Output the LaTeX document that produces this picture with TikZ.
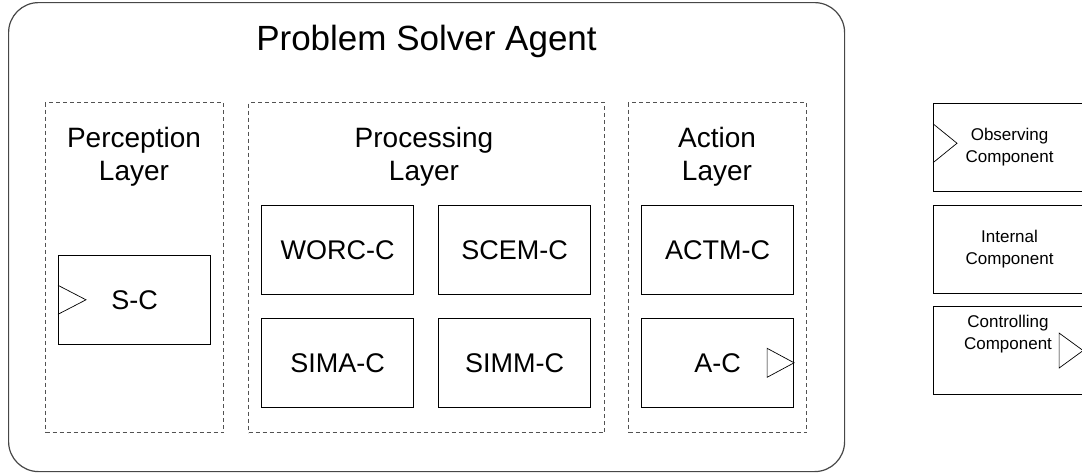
\documentclass[tikz,border=0pt]{standalone}
\usepackage{fontspec}
\setmainfont{Liberation Sans}
\begin{document}
\begin{tikzpicture}[x=1pt,y=-1pt,
  agent/.style={draw=black!72, line width=1.2pt, rounded corners=30pt, anchor=north west, inner sep=0pt},
  layer/.style={draw=black!68, line width=1pt, dash pattern=on 4pt off 3pt, anchor=north west, inner sep=0pt},
  comp/.style={draw=black, line width=1.1pt, anchor=north west, minimum width=152pt, minimum height=88.5pt, inner sep=0pt, font=\fontsize{27}{32}\selectfont},
  legendbox/.style={draw=black, line width=1.1pt, anchor=north west, minimum width=152pt, minimum height=88pt, inner sep=0pt, align=center, font=\fontsize{17}{22}\selectfont},
  legendtext/.style={inner sep=0pt, align=center, font=\fontsize{17}{22}\selectfont},
  port/.style={draw=black, line width=0.7pt, line join=miter},
  agenttitle/.style={font=\fontsize{35}{40}\selectfont, inner sep=0pt},
  layertitle/.style={font=\fontsize{28}{33}\selectfont, align=center, inner sep=0pt}]

\useasboundingbox (0,0) rectangle (1082,474);

% agent frame and its title
\node[agent, minimum width=836pt, minimum height=469pt] (agent) at (8,2) {};
\node[agenttitle, anchor=base] (title) at (426.5,50) {Problem Solver Agent};

% the three layers
\node[layer, minimum width=178pt, minimum height=330pt] (perc) at (45,102) {};
\node[layer, minimum width=356pt, minimum height=330pt] (proc) at (248,102) {};
\node[layer, minimum width=178pt, minimum height=330pt] (act) at (628,102) {};
\node[layertitle] (perctitle) at (134,157) {Perception\\Layer};
\node[layertitle] (proctitle) at (424,157) {Processing\\Layer};
\node[layertitle] (acttitle) at (717,157) {Action\\Layer};

% components
\node[comp] (sc) at (58,255) {S-C};
\node[comp] (worc) at (261,205) {WORC-C};
\node[comp] (scem) at (438,205) {SCEM-C};
\node[comp] (sima) at (261,318) {SIMA-C};
\node[comp] (simm) at (438,318) {SIMM-C};
\node[comp] (actm) at (641,205) {ACTM-C};
\node[comp] (ac) at (641,318) {A-C};

% input / output ports
\draw[port] ([yshift=14.5pt]sc.west) -- ([xshift=28pt]sc.west) -- ([yshift=-14.5pt]sc.west);
\draw[port] ([xshift=-27pt,yshift=14.5pt]ac.east) -- (ac.east) -- ([xshift=-27pt,yshift=-14.5pt]ac.east) -- cycle;

% legend
\begin{scope}
  \clip (0,0) rectangle (1082,474);
  \node[legendbox] (obs) at (933,103) {Observing\\Component};
  \node[legendbox] (int) at (933,205) {Internal\\Component};
  \node[legendbox] (ctl) at (933,306) {};
  \node[legendtext] (ctltext) at (1008,334) {Controlling\\Component};
  \draw[port] ([yshift=23.8pt]obs.west) -- ([xshift=24pt,yshift=4.3pt]obs.west) -- ([yshift=-15.2pt]obs.west);
  \draw[port] ([xshift=-27pt,yshift=17.5pt]ctl.east) -- ([xshift=-3pt]ctl.east) -- ([xshift=-27pt,yshift=-17.5pt]ctl.east) -- cycle;
\end{scope}
\end{tikzpicture}
\end{document}
